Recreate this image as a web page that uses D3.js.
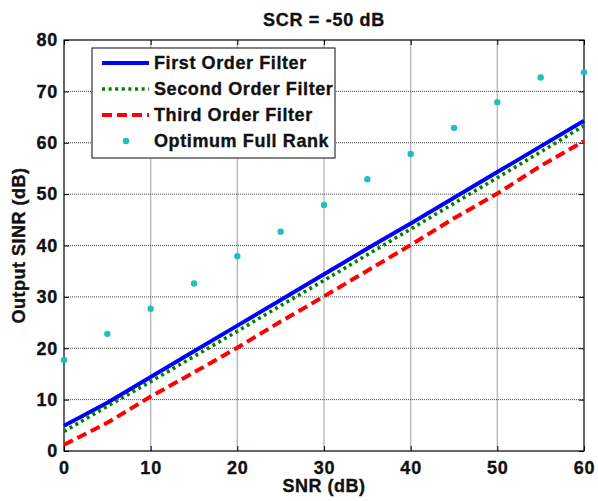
<!DOCTYPE html>
<html>
<head>
<meta charset="utf-8">
<script src="https://cdn.jsdelivr.net/npm/d3@7"></script>
<style>
  body { margin: 0; background: #fff; }
  text { font-family: "Liberation Sans", Arial, sans-serif; font-weight: bold; stroke: #111; stroke-width: 0.35px; }
</style>
</head>
<body>
<svg id="chart" width="598" height="501"></svg>
<script>
// chart data
const snr = [0, 5, 10, 15, 20, 25, 30, 35, 40, 45, 50, 55, 60];
const firstOrder = [4.9, 9.4, 14.4, 19.4, 24.4, 29.4, 34.4, 39.4, 44.3, 49.3, 54.3, 59.3, 64.3];
const secondOrder = [3.8, 8.7, 13.5, 18.4, 23.3, 28.3, 33.2, 38.2, 43.2, 48.2, 53.2, 58.2, 63.3];
const thirdOrder = [1.2, 5.5, 10.6, 15.3, 20.1, 25.2, 30.1, 35.1, 40.1, 45.3, 50.1, 55.5, 60.3];
const optimum = [17.7, 22.8, 27.7, 32.6, 37.9, 42.7, 47.9, 52.9, 57.8, 62.9, 67.9, 72.7, 73.7];
const xTicks = [0, 10, 20, 30, 40, 50, 60];
const yTicks = [0, 10, 20, 30, 40, 50, 60, 70, 80];
const seriesNames = ["First Order Filter", "Second Order Filter", "Third Order Filter", "Optimum Full Rank"];

const svg = d3.select("#chart");
const margin = { top: 40, left: 64, right: 14, bottom: 50 };
const width = 598 - margin.left - margin.right;
const height = 501 - margin.top - margin.bottom;

const x = d3.scaleLinear().domain([0, 60]).range([0, width]);
const y = d3.scaleLinear().domain([0, 80]).range([height, 0]);

const g = svg.append("g").attr("transform", `translate(${margin.left},${margin.top})`);

// grid lines
g.append("g").selectAll("line").data(xTicks.slice(1, -1)).join("line")
  .attr("x1", d => x(d)).attr("x2", d => x(d))
  .attr("y1", 0).attr("y2", height)
  .attr("stroke", "#b4b4b4").attr("stroke-width", 1.3);
g.append("g").selectAll("line").data(yTicks.slice(1, -1)).join("line")
  .attr("x1", 0).attr("x2", width)
  .attr("y1", d => y(d)).attr("y2", d => y(d))
  .attr("stroke", "#444").attr("stroke-width", 1).attr("stroke-dasharray", "1,1");

// axes with inward ticks
const tickLen = 5;
const xAxis = g.append("g").attr("transform", `translate(0,${height})`)
  .call(d3.axisBottom(x).tickValues(xTicks).tickSizeInner(-tickLen).tickSizeOuter(0).tickPadding(10));
const yAxis = g.append("g")
  .call(d3.axisLeft(y).tickValues(yTicks).tickSizeInner(-tickLen).tickSizeOuter(0).tickPadding(6));
g.append("g").call(d3.axisTop(x).tickValues(xTicks).tickSizeInner(-tickLen).tickSizeOuter(0).tickFormat(""));
g.append("g").attr("transform", `translate(${width},0)`)
  .call(d3.axisRight(y).tickValues(yTicks).tickSizeInner(-tickLen).tickSizeOuter(0).tickFormat(""));

g.selectAll(".domain").remove();
g.selectAll(".tick line").attr("stroke", "#000");
[xAxis, yAxis].forEach(a => a.selectAll("text")
  .attr("font-size", 18).attr("fill", "#111").style("letter-spacing", "0.8px"));
xAxis.selectAll("text").attr("dy", "0.71em");

// box
g.append("rect").attr("width", width).attr("height", height)
  .attr("fill", "none").attr("stroke", "#000").attr("stroke-width", 1.2);

// series
const line = d3.line().x((d, i) => x(snr[i])).y(d => y(d));
const styles = [
  { data: firstOrder, color: "#0000ff", dash: null, w: 4 },
  { data: secondOrder, color: "#008000", dash: "3,3.6", w: 3.6 },
  { data: thirdOrder, color: "#ff0000", dash: "10,5", w: 4 }
];
const plot = g.append("g");
styles.forEach(s => {
  plot.append("path").datum(s.data)
    .attr("fill", "none").attr("stroke", s.color).attr("stroke-width", s.w)
    .attr("stroke-dasharray", s.dash)
    .attr("d", line);
});
plot.selectAll("circle").data(optimum).join("circle")
  .attr("cx", (d, i) => x(snr[i])).attr("cy", d => y(d))
  .attr("r", 3.2).attr("fill", "#1fbfbf");

// legend
const lg = svg.append("g").attr("transform", "translate(92,48)");
lg.append("rect").attr("width", 243).attr("height", 110)
  .attr("fill", "#fff").attr("stroke", "#333").attr("stroke-width", 1.2);
const rowY = [15, 41, 67, 93];
seriesNames.forEach((name, i) => {
  if (i < 3) {
    const s = styles[i];
    lg.append("line").attr("x1", 10).attr("x2", 57).attr("y1", rowY[i]).attr("y2", rowY[i])
      .attr("stroke", s.color).attr("stroke-width", s.w).attr("stroke-dasharray", s.dash);
  } else {
    lg.append("circle").attr("cx", 34).attr("cy", rowY[i]).attr("r", 3.2).attr("fill", "#1fbfbf");
  }
  lg.append("text").attr("x", 62).attr("y", rowY[i]).attr("dy", "0.36em")
    .attr("font-size", 18).attr("fill", "#111").style("letter-spacing", "0.6px")
    .text(name);
});

// title and axis labels
svg.append("text").attr("x", margin.left + width / 2).attr("y", 26)
  .attr("text-anchor", "middle").attr("font-size", 18).attr("fill", "#111")
  .style("letter-spacing", "0.7px").text("SCR = -50 dB");
svg.append("text").attr("x", margin.left + width / 2).attr("y", 492)
  .attr("text-anchor", "middle").attr("font-size", 18).attr("fill", "#111")
  .style("letter-spacing", "0.5px").text("SNR (dB)");
svg.append("text").attr("transform", `translate(25,${margin.top + height / 2}) rotate(-90)`)
  .attr("text-anchor", "middle").attr("font-size", 18).attr("fill", "#111")
  .style("letter-spacing", "0.5px").text("Output SINR (dB)");
</script>
</body>
</html>
